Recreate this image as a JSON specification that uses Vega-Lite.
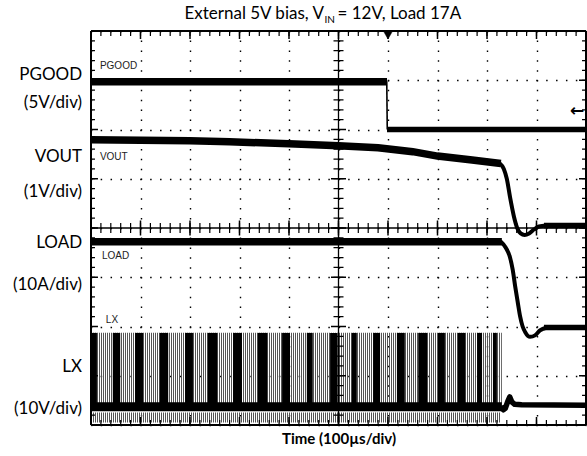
{
  "$schema": "https://vega.github.io/schema/vega-lite/v6.json",
  "width": 495,
  "height": 394,
  "autosize": {"type": "none"},
  "padding": {"left": 91, "top": 31, "right": 1, "bottom": 31},
  "background": "white",
  "config": {"view": {"stroke": null}, "font": "Lato"},
  "datasets": {
    "traces": [
      {"trace": "PGOOD", "part": "noisy", "t": 0, "v": 6.97},
      {"trace": "PGOOD", "part": "noisy", "t": 5.98, "v": 6.97},
      {"trace": "PGOOD", "part": "edge", "t": 5.975, "v": 6.98},
      {"trace": "PGOOD", "part": "edge", "t": 5.985, "v": 6.0},
      {"trace": "PGOOD", "part": "settled", "t": 5.98, "v": 6.0},
      {"trace": "PGOOD", "part": "settled", "t": 10, "v": 6.0},
      {"trace": "VOUT", "part": "noisy", "t": 0, "v": 5.79},
      {"trace": "VOUT", "part": "noisy", "t": 1, "v": 5.78},
      {"trace": "VOUT", "part": "noisy", "t": 2, "v": 5.77},
      {"trace": "VOUT", "part": "noisy", "t": 2.8, "v": 5.75},
      {"trace": "VOUT", "part": "noisy", "t": 4, "v": 5.71},
      {"trace": "VOUT", "part": "noisy", "t": 5, "v": 5.67},
      {"trace": "VOUT", "part": "noisy", "t": 5.8, "v": 5.63},
      {"trace": "VOUT", "part": "noisy", "t": 6.5, "v": 5.55},
      {"trace": "VOUT", "part": "noisy", "t": 7, "v": 5.46},
      {"trace": "VOUT", "part": "noisy", "t": 7.7, "v": 5.38},
      {"trace": "VOUT", "part": "noisy", "t": 8.28, "v": 5.31},
      {"trace": "VOUT", "part": "transition", "t": 8.26, "v": 5.31},
      {"trace": "VOUT", "part": "transition", "t": 8.34, "v": 5.2},
      {"trace": "VOUT", "part": "transition", "t": 8.4, "v": 5.0},
      {"trace": "VOUT", "part": "transition", "t": 8.47, "v": 4.6},
      {"trace": "VOUT", "part": "transition", "t": 8.54, "v": 4.25},
      {"trace": "VOUT", "part": "transition", "t": 8.61, "v": 4.0},
      {"trace": "VOUT", "part": "transition", "t": 8.68, "v": 3.89},
      {"trace": "VOUT", "part": "transition", "t": 8.76, "v": 3.86},
      {"trace": "VOUT", "part": "transition", "t": 8.85, "v": 3.89},
      {"trace": "VOUT", "part": "transition", "t": 8.95, "v": 3.97},
      {"trace": "VOUT", "part": "transition", "t": 9.05, "v": 4.03},
      {"trace": "VOUT", "part": "transition", "t": 9.2, "v": 4.05},
      {"trace": "VOUT", "part": "settled", "t": 9.15, "v": 4.05},
      {"trace": "VOUT", "part": "settled", "t": 10, "v": 4.05},
      {"trace": "LOAD", "part": "noisy", "t": 0, "v": 3.72},
      {"trace": "LOAD", "part": "noisy", "t": 8.3, "v": 3.72},
      {"trace": "LOAD", "part": "transition", "t": 8.28, "v": 3.72},
      {"trace": "LOAD", "part": "transition", "t": 8.38, "v": 3.6},
      {"trace": "LOAD", "part": "transition", "t": 8.46, "v": 3.42},
      {"trace": "LOAD", "part": "transition", "t": 8.52, "v": 3.15},
      {"trace": "LOAD", "part": "transition", "t": 8.57, "v": 2.81},
      {"trace": "LOAD", "part": "transition", "t": 8.62, "v": 2.5},
      {"trace": "LOAD", "part": "transition", "t": 8.67, "v": 2.2},
      {"trace": "LOAD", "part": "transition", "t": 8.72, "v": 2.0},
      {"trace": "LOAD", "part": "transition", "t": 8.77, "v": 1.89},
      {"trace": "LOAD", "part": "transition", "t": 8.87, "v": 1.79},
      {"trace": "LOAD", "part": "transition", "t": 8.97, "v": 1.82},
      {"trace": "LOAD", "part": "transition", "t": 9.07, "v": 1.92},
      {"trace": "LOAD", "part": "transition", "t": 9.21, "v": 1.98},
      {"trace": "LOAD", "part": "settled", "t": 9.15, "v": 1.98},
      {"trace": "LOAD", "part": "settled", "t": 10, "v": 1.98},
      {"trace": "LX", "part": "settled", "t": 8.28, "v": 0.38},
      {"trace": "LX", "part": "settled", "t": 8.33, "v": 0.31},
      {"trace": "LX", "part": "settled", "t": 8.37, "v": 0.34},
      {"trace": "LX", "part": "settled", "t": 8.42, "v": 0.48},
      {"trace": "LX", "part": "settled", "t": 8.46, "v": 0.57},
      {"trace": "LX", "part": "settled", "t": 8.5, "v": 0.47},
      {"trace": "LX", "part": "settled", "t": 8.56, "v": 0.42},
      {"trace": "LX", "part": "settled", "t": 8.7, "v": 0.41},
      {"trace": "LX", "part": "settled", "t": 10, "v": 0.4}
    ],
    "lx_blocks": [
      {"t0": 0.01, "t1": 0.12, "vhi": 1.87, "vlo": 0.35},
      {"t0": 0.44, "t1": 0.59, "vhi": 1.87, "vlo": 0.35},
      {"t0": 0.89, "t1": 1.05, "vhi": 1.87, "vlo": 0.35},
      {"t0": 1.39, "t1": 1.56, "vhi": 1.87, "vlo": 0.35},
      {"t0": 1.9, "t1": 2.06, "vhi": 1.87, "vlo": 0.35},
      {"t0": 2.36, "t1": 2.55, "vhi": 1.87, "vlo": 0.35},
      {"t0": 2.87, "t1": 3.05, "vhi": 1.87, "vlo": 0.35},
      {"t0": 3.37, "t1": 3.56, "vhi": 1.87, "vlo": 0.35},
      {"t0": 3.86, "t1": 4.02, "vhi": 1.87, "vlo": 0.35},
      {"t0": 4.36, "t1": 4.48, "vhi": 1.87, "vlo": 0.35},
      {"t0": 4.83, "t1": 4.97, "vhi": 1.87, "vlo": 0.35},
      {"t0": 5.27, "t1": 5.37, "vhi": 1.87, "vlo": 0.35},
      {"t0": 5.7, "t1": 5.84, "vhi": 1.87, "vlo": 0.35},
      {"t0": 6.18, "t1": 6.34, "vhi": 1.87, "vlo": 0.35},
      {"t0": 6.61, "t1": 6.79, "vhi": 1.87, "vlo": 0.35},
      {"t0": 7.01, "t1": 7.15, "vhi": 1.87, "vlo": 0.35},
      {"t0": 7.41, "t1": 7.56, "vhi": 1.87, "vlo": 0.35},
      {"t0": 7.8, "t1": 7.9, "vhi": 1.87, "vlo": 0.35},
      {"t0": 8.12, "t1": 8.2, "vhi": 1.87, "vlo": 0.35}
    ],
    "lx_bands": [
      {"kind": "stripes", "t0": 0, "t1": 8.3, "v": 1.12},
      {"kind": "ring", "t0": 0, "t1": 8.28, "v": 0.15},
      {"kind": "low", "t0": 0, "t1": 8.3, "v": 0.37}
    ],
    "scope_labels": [
      {"label": "PGOOD", "t": 0.18, "v": 7.28},
      {"label": "VOUT", "t": 0.18, "v": 5.45},
      {"label": "LOAD", "t": 0.22, "v": 3.43},
      {"label": "LX", "t": 0.3, "v": 2.13}
    ],
    "channel_labels": [
      {"label": "PGOOD", "v": 7.11},
      {"label": "(5V/div)", "v": 6.54},
      {"label": "VOUT", "v": 5.44},
      {"label": "(1V/div)", "v": 4.73},
      {"label": "LOAD", "v": 3.7},
      {"label": "(10A/div)", "v": 2.84},
      {"label": "LX", "v": 1.18},
      {"label": "(10V/div)", "v": 0.32}
    ],
    "frame_h": [{"edge": "bottom", "v": 0}, {"edge": "top", "v": 8}],
    "frame_v": [{"edge": "left", "t": 0}, {"edge": "right", "t": 10}],
    "markers": [{"marker": "trigger", "t": 6.0, "v": 7.92}]
  },
  "resolve": {"axis": {"x": "independent", "y": "independent"}},
  "layer": [
    {
      "data": {"name": "traces"},
      "mark": {"type": "point", "opacity": 0},
      "encoding": {
        "x": {"field": "t", "type": "quantitative", "scale": {"domain": [0, 10], "nice": false, "zero": false},
          "axis": {"orient": "bottom", "tickCount": 10, "labels": false, "domain": false, "ticks": false,
            "grid": true, "gridColor": "black", "gridWidth": 1.4, "gridDash": [1.5, 8.35], "gridDashOffset": 0.75,
            "title": "Time (100µs/div)", "titleFont": "Lato", "titleFontWeight": "bold", "titleFontSize": 15, "titleColor": "black",
            "titleBaseline": "alphabetic", "titleY": 18}},
        "y": {"field": "v", "type": "quantitative", "scale": {"domain": [0, 8], "nice": false, "zero": false},
          "axis": {"orient": "left", "tickCount": 8, "labels": false, "domain": false, "title": null, "ticks": false,
            "grid": true, "gridColor": "black", "gridWidth": 1.4, "gridDash": [1.5, 8.4], "gridDashOffset": 0.75}}
      }
    },
    {
      "data": {"name": "lx_bands"},
      "transform": [{"filter": "datum.kind === 'stripes'"}],
      "mark": {"type": "rule", "color": "#555555", "strokeWidth": 74, "strokeDash": [1, 1]},
      "encoding": {
        "x": {"field": "t0", "type": "quantitative", "scale": {"domain": [0, 10]}, "axis": null},
        "x2": {"field": "t1"},
        "y": {"field": "v", "type": "quantitative", "scale": {"domain": [0, 8]}, "axis": null}
      }
    },
    {
      "data": {"name": "lx_bands"},
      "transform": [{"filter": "datum.kind === 'ring'"}],
      "mark": {"type": "rule", "color": "#555555", "strokeWidth": 10, "strokeDash": [1, 1]},
      "encoding": {
        "x": {"field": "t0", "type": "quantitative", "scale": {"domain": [0, 10]}, "axis": null},
        "x2": {"field": "t1"},
        "y": {"field": "v", "type": "quantitative", "scale": {"domain": [0, 8]}, "axis": null}
      }
    },
    {
      "data": {"name": "lx_blocks"},
      "mark": {"type": "rect", "color": "black"},
      "encoding": {
        "x": {"field": "t0", "type": "quantitative", "scale": {"domain": [0, 10]}, "axis": null},
        "x2": {"field": "t1"},
        "y": {"field": "vhi", "type": "quantitative", "scale": {"domain": [0, 8]}, "axis": null},
        "y2": {"field": "vlo"}
      }
    },
    {
      "data": {"name": "lx_bands"},
      "transform": [{"filter": "datum.kind === 'low'"}],
      "mark": {"type": "rule", "color": "black", "strokeWidth": 9},
      "encoding": {
        "x": {"field": "t0", "type": "quantitative", "scale": {"domain": [0, 10]}, "axis": null},
        "x2": {"field": "t1"},
        "y": {"field": "v", "type": "quantitative", "scale": {"domain": [0, 8]}, "axis": null}
      }
    },
    {
      "data": {"values": [{"edge": "bottom", "v": 0.05}, {"edge": "top", "v": 7.95}]},
      "mark": {"type": "rule", "color": "black", "strokeWidth": 5, "strokeDash": [1.2, 8.7], "strokeDashOffset": 0.6},
      "encoding": {
        "x": {"datum": 0, "type": "quantitative", "scale": {"domain": [0, 10]}, "axis": null},
        "x2": {"datum": 10},
        "y": {"field": "v", "type": "quantitative", "scale": {"domain": [0, 8]}, "axis": null}
      }
    },
    {
      "data": {"values": [{"edge": "bottom", "v": 0.08}, {"edge": "top", "v": 7.92}]},
      "mark": {"type": "rule", "color": "black", "strokeWidth": 8, "strokeDash": [1.5, 48], "strokeDashOffset": 0.75},
      "encoding": {
        "x": {"datum": 0, "type": "quantitative", "scale": {"domain": [0, 10]}, "axis": null},
        "x2": {"datum": 10},
        "y": {"field": "v", "type": "quantitative", "scale": {"domain": [0, 8]}, "axis": null}
      }
    },
    {
      "data": {"values": [{"edge": "left", "t": 0.04}, {"edge": "right", "t": 9.96}]},
      "mark": {"type": "rule", "color": "black", "strokeWidth": 4, "strokeDash": [1.2, 8.65], "strokeDashOffset": 0.6},
      "encoding": {
        "x": {"field": "t", "type": "quantitative", "scale": {"domain": [0, 10]}, "axis": null},
        "y": {"datum": 0, "type": "quantitative", "scale": {"domain": [0, 8]}, "axis": null},
        "y2": {"datum": 8}
      }
    },
    {
      "data": {"values": [{"edge": "left", "t": 0.07}, {"edge": "right", "t": 9.93}]},
      "mark": {"type": "rule", "color": "black", "strokeWidth": 7, "strokeDash": [1.5, 47.75], "strokeDashOffset": 0.75},
      "encoding": {
        "x": {"field": "t", "type": "quantitative", "scale": {"domain": [0, 10]}, "axis": null},
        "y": {"datum": 0, "type": "quantitative", "scale": {"domain": [0, 8]}, "axis": null},
        "y2": {"datum": 8}
      }
    },
    {
      "data": {"values": [{}]},
      "mark": {"type": "rule", "color": "black", "strokeWidth": 1.3},
      "encoding": {
        "x": {"datum": 0, "type": "quantitative", "scale": {"domain": [0, 10]}, "axis": null},
        "x2": {"datum": 10},
        "y": {"datum": 4, "type": "quantitative", "scale": {"domain": [0, 8]}, "axis": null}
      }
    },
    {
      "data": {"values": [{}]},
      "mark": {"type": "rule", "color": "black", "strokeWidth": 10, "strokeDash": [1.2, 8.7], "strokeDashOffset": 0.6},
      "encoding": {
        "x": {"datum": 0, "type": "quantitative", "scale": {"domain": [0, 10]}, "axis": null},
        "x2": {"datum": 10},
        "y": {"datum": 4, "type": "quantitative", "scale": {"domain": [0, 8]}, "axis": null}
      }
    },
    {
      "data": {"values": [{}]},
      "mark": {"type": "rule", "color": "black", "strokeWidth": 15, "strokeDash": [1.5, 48], "strokeDashOffset": 0.75},
      "encoding": {
        "x": {"datum": 0, "type": "quantitative", "scale": {"domain": [0, 10]}, "axis": null},
        "x2": {"datum": 10},
        "y": {"datum": 4, "type": "quantitative", "scale": {"domain": [0, 8]}, "axis": null}
      }
    },
    {
      "data": {"values": [{}]},
      "mark": {"type": "rule", "color": "black", "strokeWidth": 1.3},
      "encoding": {
        "x": {"datum": 5, "type": "quantitative", "scale": {"domain": [0, 10]}, "axis": null},
        "y": {"datum": 0, "type": "quantitative", "scale": {"domain": [0, 8]}, "axis": null},
        "y2": {"datum": 8}
      }
    },
    {
      "data": {"values": [{}]},
      "mark": {"type": "rule", "color": "black", "strokeWidth": 10, "strokeDash": [1.2, 8.65], "strokeDashOffset": 0.6},
      "encoding": {
        "x": {"datum": 5, "type": "quantitative", "scale": {"domain": [0, 10]}, "axis": null},
        "y": {"datum": 0, "type": "quantitative", "scale": {"domain": [0, 8]}, "axis": null},
        "y2": {"datum": 8}
      }
    },
    {
      "data": {"values": [{}]},
      "mark": {"type": "rule", "color": "black", "strokeWidth": 15, "strokeDash": [1.5, 47.75], "strokeDashOffset": 0.75},
      "encoding": {
        "x": {"datum": 5, "type": "quantitative", "scale": {"domain": [0, 10]}, "axis": null},
        "y": {"datum": 0, "type": "quantitative", "scale": {"domain": [0, 8]}, "axis": null},
        "y2": {"datum": 8}
      }
    },
    {
      "data": {"name": "traces"},
      "transform": [{"filter": "datum.part === 'noisy'"}],
      "mark": {"type": "line", "color": "black", "strokeWidth": 7.5, "strokeCap": "butt"},
      "encoding": {
        "x": {"field": "t", "type": "quantitative", "scale": {"domain": [0, 10]}, "axis": null},
        "y": {"field": "v", "type": "quantitative", "scale": {"domain": [0, 8]}, "axis": null},
        "detail": {"field": "trace"}
      }
    },
    {
      "data": {"name": "traces"},
      "transform": [{"filter": "datum.part === 'settled'"}],
      "mark": {"type": "line", "color": "black", "strokeWidth": 5.5, "strokeCap": "butt", "strokeJoin": "round"},
      "encoding": {
        "x": {"field": "t", "type": "quantitative", "scale": {"domain": [0, 10]}, "axis": null},
        "y": {"field": "v", "type": "quantitative", "scale": {"domain": [0, 8]}, "axis": null},
        "detail": {"field": "trace"}
      }
    },
    {
      "data": {"name": "traces"},
      "transform": [{"filter": "datum.part === 'transition'"}],
      "mark": {"type": "line", "color": "black", "strokeWidth": 4, "strokeCap": "round", "strokeJoin": "round", "interpolate": "monotone"},
      "encoding": {
        "x": {"field": "t", "type": "quantitative", "scale": {"domain": [0, 10]}, "axis": null},
        "y": {"field": "v", "type": "quantitative", "scale": {"domain": [0, 8]}, "axis": null},
        "detail": {"field": "trace"}
      }
    },
    {
      "data": {"name": "traces"},
      "transform": [{"filter": "datum.part === 'edge'"}],
      "mark": {"type": "line", "color": "black", "strokeWidth": 1.6},
      "encoding": {
        "x": {"field": "t", "type": "quantitative", "scale": {"domain": [0, 10]}, "axis": null},
        "y": {"field": "v", "type": "quantitative", "scale": {"domain": [0, 8]}, "axis": null},
        "detail": {"field": "trace"}
      }
    },
    {
      "data": {"name": "frame_h"},
      "mark": {"type": "rule", "color": "black", "strokeWidth": 2},
      "encoding": {
        "x": {"datum": 0, "type": "quantitative", "scale": {"domain": [0, 10]}, "axis": null},
        "x2": {"datum": 10},
        "y": {"field": "v", "type": "quantitative", "scale": {"domain": [0, 8]}, "axis": null}
      }
    },
    {
      "data": {"name": "frame_v"},
      "mark": {"type": "rule", "color": "black", "strokeWidth": 2},
      "encoding": {
        "x": {"field": "t", "type": "quantitative", "scale": {"domain": [0, 10]}, "axis": null},
        "y": {"datum": 0, "type": "quantitative", "scale": {"domain": [0, 8]}, "axis": null},
        "y2": {"datum": 8}
      }
    },
    {
      "data": {"name": "markers"},
      "mark": {"type": "point", "shape": "triangle-down", "filled": true, "fill": "black", "stroke": "black", "strokeWidth": 0.5, "size": 90, "opacity": 1},
      "encoding": {
        "x": {"field": "t", "type": "quantitative", "scale": {"domain": [0, 10]}, "axis": null},
        "y": {"field": "v", "type": "quantitative", "scale": {"domain": [0, 8]}, "axis": null}
      }
    },
    {
      "data": {"name": "scope_labels"},
      "mark": {"type": "text", "font": "Liberation Sans", "fontSize": 10, "align": "left", "baseline": "middle", "color": "#222"},
      "encoding": {
        "x": {"field": "t", "type": "quantitative", "scale": {"domain": [0, 10]}, "axis": null},
        "y": {"field": "v", "type": "quantitative", "scale": {"domain": [0, 8]}, "axis": null},
        "text": {"field": "label"}
      }
    },
    {
      "data": {"name": "channel_labels"},
      "mark": {"type": "text", "font": "Lato", "fontSize": 17, "align": "right", "baseline": "middle", "color": "black"},
      "encoding": {
        "x": {"datum": -0.18, "type": "quantitative", "scale": {"domain": [0, 10]}, "axis": null},
        "y": {"field": "v", "type": "quantitative", "scale": {"domain": [0, 8]}, "axis": null},
        "text": {"field": "label"}
      }
    },
    {
      "data": {"values": [{}]},
      "mark": {"type": "text", "text": "External 5V bias, V", "font": "Lato", "fontSize": 17, "align": "right", "baseline": "alphabetic", "color": "black"},
      "encoding": {
        "x": {"datum": 4.705, "type": "quantitative", "scale": {"domain": [0, 10]}, "axis": null},
        "y": {"datum": 8.234, "type": "quantitative", "scale": {"domain": [0, 8]}, "axis": null}
      }
    },
    {
      "data": {"values": [{}]},
      "mark": {"type": "text", "text": "IN", "font": "Lato", "fontSize": 10, "align": "left", "baseline": "alphabetic", "color": "black"},
      "encoding": {
        "x": {"datum": 4.715, "type": "quantitative", "scale": {"domain": [0, 10]}, "axis": null},
        "y": {"datum": 8.16, "type": "quantitative", "scale": {"domain": [0, 8]}, "axis": null}
      }
    },
    {
      "data": {"values": [{}]},
      "mark": {"type": "text", "text": "= 12V, Load 17A", "font": "Lato", "fontSize": 17, "align": "left", "baseline": "alphabetic", "color": "black"},
      "encoding": {
        "x": {"datum": 4.98, "type": "quantitative", "scale": {"domain": [0, 10]}, "axis": null},
        "y": {"datum": 8.234, "type": "quantitative", "scale": {"domain": [0, 8]}, "axis": null}
      }
    },
    {
      "data": {"values": [{}]},
      "mark": {"type": "text", "text": "←", "font": "DejaVu Sans", "fontSize": 17, "fontWeight": "bold", "align": "center", "baseline": "middle", "color": "black"},
      "encoding": {
        "x": {"datum": 9.82, "type": "quantitative", "scale": {"domain": [0, 10]}, "axis": null},
        "y": {"datum": 6.37, "type": "quantitative", "scale": {"domain": [0, 8]}, "axis": null}
      }
    }
  ]
}
